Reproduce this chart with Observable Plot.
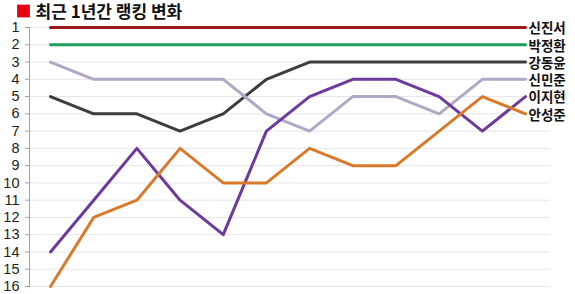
<!DOCTYPE html>
<html><head><meta charset="utf-8">
<script src="https://cdn.jsdelivr.net/npm/d3@7"></script>
<script src="https://cdn.jsdelivr.net/npm/@observablehq/plot@0.6"></script>
<style>body{margin:0;background:#fff}</style>
</head><body><div id="chart"></div>
<script>
const title = "최근 1년간 랭킹 변화";
const months = [1,2,3,4,5,6,7,8,9,10,11,12];
const names = ["신진서","박정환","강동윤","신민준","이지현","안성준"];
const colors = ["#9e1a1a","#1e9e5c","#3d3d3d","#b0a8c4","#6b3a9c","#d97a2b"];
const shinjinseo = [1,1,1,1,1,1,1,1,1,1,1,1];
const parkjunghwan = [2,2,2,2,2,2,2,2,2,2,2,2];
const kangdongyun = [5,6,6,7,6,4,3,3,3,3,3,3];
const shinminjun = [3,4,4,4,4,6,7,5,5,6,4,4];
const leejihyun = [14,11,8,11,13,7,5,4,4,5,7,5];
const ahnsungjun = [16,12,11,8,10,10,8,9,9,7,5,6];
const yTicks = d3.range(1,17);

const series = [shinjinseo, parkjunghwan, kangdongyun, shinminjun, leejihyun, ahnsungjun];
const data = series.flatMap((vals, i) => vals.map((v, j) => ({name: names[i], month: months[j], rank: v})));
const last = data.filter(d => d.month === months[months.length-1]);

const font = "'Noto Sans CJK KR', sans-serif";
const chart = Plot.plot({
  width: 575, height: 294,
  marginTop: 27, marginBottom: 8, marginLeft: 29, marginRight: 25,
  style: {fontFamily: font, background: "#fff"},
  x: {domain: [1, 12], range: [50, 525], axis: null},
  y: {domain: [1, 16], reverse: true, axis: null},
  color: {domain: names, range: colors},
  marks: [
    Plot.gridY(yTicks, {stroke: "#e6e6e6", strokeOpacity: 1, strokeWidth: 1}),
    Plot.frame({anchor: "left", stroke: "#a0a0a0"}),
    Plot.axisY(yTicks, {label: null, tickSize: 4, tickPadding: 6, fontSize: 14.5, fontFamily: "'Liberation Sans', sans-serif", stroke: "#a0a0a0", fill: "#222", tickFormat: d => String(d)}),
    Plot.line(data, {x: "month", y: "rank", z: "name", stroke: "name", strokeWidth: 3, strokeLinejoin: "round"}),
    Plot.text(last, {x: "month", y: "rank", text: "name", textAnchor: "start", dx: 3, dy: 1.5, fontSize: 13.5, lineHeight: 1, fontWeight: "bold", fill: "#111"}),
    Plot.dot([0], {frameAnchor: "top-left", dx: -6, dy: -16.5, symbol: "square", r: 7.2, fill: "#e60012", stroke: null}),
    Plot.text([title], {frameAnchor: "top-left", dx: 6, dy: -22, text: d => d, textAnchor: "start", fontSize: 17, fontWeight: "bold", fill: "#111"})
  ]
});
document.getElementById("chart").append(chart);
</script></body></html>
